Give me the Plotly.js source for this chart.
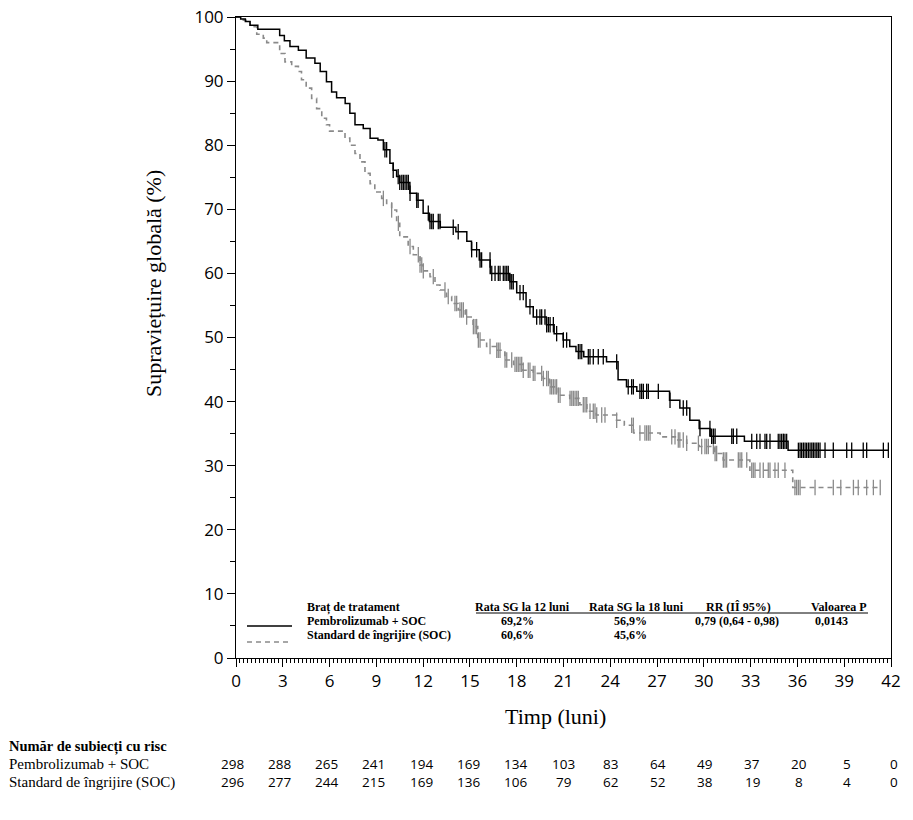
<!DOCTYPE html>
<html>
<head>
<meta charset="utf-8">
<script src="https://cdn.plot.ly/plotly-3.0.1.min.js"></script>
<style>html,body{margin:0;padding:0;background:#fff}</style>
</head>
<body>
<div id="chart" style="width:913px;height:820px"></div>
<script>
// ---- Kaplan-Meier data ----
const pembroTime = [0,0.3,0.6,0.9,1.4,2.8,3.1,3.46,4.0,4.5,5.06,5.4,5.8,6.13,6.45,7.0,7.3,7.63,8.16,8.6,9.1,9.45,9.87,10.08,10.3,10.5,11.15,11.58,12.0,12.4,13.1,14.1,14.8,15.1,15.6,16.3,17.56,18.0,18.6,19.06,19.9,20.4,20.98,21.4,21.8,22.3,23.76,24.5,25.04,25.7,27.8,28.46,29.1,29.7,30.4,32.6,35.4,41.83];
const pembroSurv = [100,99.7,99.3,98.7,98.1,97.1,96.3,95.4,94.8,93.6,92.8,91.5,89.9,88.3,87.4,86.5,85.0,83.2,82.6,81.1,80.8,79.3,77.2,76.1,75.1,74.2,72.5,71.4,69.4,68.1,67.2,66.5,65.0,63.7,62.1,60.0,58.7,57.0,54.8,53.2,52.0,50.6,49.6,48.6,47.8,47.0,46.2,43.4,42.3,41.6,40.2,39.0,37.1,35.8,34.6,33.8,32.4,32.4];
const socTime = [0,0.47,0.9,1.33,1.75,1.97,2.8,3.14,3.57,4.0,4.2,4.5,4.85,5.17,5.5,5.8,6.0,6.99,7.3,7.63,7.95,8.27,8.6,8.9,9.34,9.66,9.98,10.3,10.5,11.04,11.37,11.8,12.0,12.44,12.76,13.08,13.5,13.83,14.25,14.7,15.2,15.5,16.07,16.7,17.24,17.8,18.4,19.06,19.7,20.1,20.67,21.4,22.05,22.5,23.1,24.4,24.9,25.5,27.2,28.25,28.9,29.7,30.7,31.24,32.95,35.7,41.31];
const socSurv = [100,99.5,98.5,97.3,96.7,96.0,94.3,93.0,92.3,91.5,90.2,88.9,87.3,85.7,84.2,83.2,82.2,81.1,80.0,78.7,77.4,75.6,74.0,72.7,71.7,70.9,69.9,67.8,65.7,64.2,62.9,61.3,60.4,59.5,58.2,57.4,56.4,55.3,54.3,53.2,51.7,49.6,48.6,48.0,46.5,45.8,44.9,44.4,43.6,42.3,41.0,40.5,39.5,38.5,37.9,37.1,36.3,35.1,34.5,34.0,33.5,33.0,31.9,30.9,29.3,26.6,26.6];
const pembroCensor = [9.55,9.66,10.08,10.4,10.5,10.63,10.73,10.84,10.95,11.05,11.16,11.59,11.68,12.33,12.44,12.55,12.65,12.97,13.08,13.93,14.25,15.11,15.43,15.65,15.75,16.29,16.4,16.61,16.82,16.93,17.14,17.25,17.36,17.46,17.57,17.68,17.78,18.21,18.42,18.85,19.28,19.49,19.6,19.81,19.92,20.03,20.14,20.35,20.56,20.99,21.2,21.95,22.06,22.17,22.59,22.7,22.91,23.23,23.55,24.41,25.15,25.37,25.48,25.9,26.01,26.12,26.33,26.44,27.08,27.83,28.68,28.9,29.75,30.39,30.5,30.61,30.72,31.79,31.89,32.11,33.07,33.39,33.6,33.92,34.03,34.24,34.77,34.88,34.99,35.1,35.2,35.31,36.06,36.17,36.27,36.38,36.49,36.59,36.7,36.81,36.92,37.02,37.13,37.24,37.34,37.45,37.77,38.3,39.16,39.48,40.22,40.44,41.51,41.83];
const socCensor = [9.45,9.98,10.41,11.16,11.69,11.8,11.91,12.01,12.65,13.4,13.61,14.04,14.15,14.36,14.47,14.58,14.79,15.22,15.33,15.43,15.54,15.65,16.29,16.72,16.82,16.93,17.25,17.36,17.68,17.89,18.0,18.1,18.21,18.32,18.42,18.74,18.85,19.06,19.17,19.6,19.71,19.92,20.03,20.14,20.24,20.35,20.46,20.56,20.67,20.78,21.42,21.53,21.63,21.74,21.85,21.95,22.27,22.38,22.49,22.7,22.91,23.02,23.13,23.45,23.66,24.41,25.37,25.48,25.9,26.22,26.33,26.44,26.55,27.94,28.15,28.36,28.46,28.68,28.9,29.65,29.86,30.07,30.18,30.29,30.61,30.72,30.82,31.25,31.36,31.46,32.21,32.32,32.43,32.75,33.07,33.17,33.28,33.6,33.81,34.13,34.24,34.56,34.77,35.2,35.84,35.95,36.06,36.17,37.13,38.3,38.78,39.59,39.9,40.44,40.87,41.31];

// ---- risk table ----
const riskTimes = [0,3,6,9,12,15,18,21,24,27,30,33,36,39,42];
const pembroRisk = [298,288,265,241,194,169,134,103,83,64,49,37,20,5,0];
const socRisk = [296,277,244,215,169,136,106,79,62,52,38,19,8,4,0];

// ---- text ----
const armNames = ['Pembrolizumab + SOC','Standard de îngrijire (SOC)'];
const rate12 = ['69,2%','60,6%'];
const rate18 = ['56,9%','45,6%'];
const hrText = '0,79 (0,64 - 0,98)';
const pText = '0,0143';

function stepAt(times, surv, t){
  let v = surv[0];
  for (let i=0;i<times.length;i++){ if (times[i] <= t) v = surv[i]; else break; }
  return v;
}

const BLACK = '#000000', GRAY = '#8a8a8a';

const traces = [
  {x: socTime, y: socSurv, type:'scatter', mode:'lines', line:{shape:'hv', color:GRAY, width:1.6, dash:'5px,4px'}, hoverinfo:'skip'},
  {x: socCensor, y: socCensor.map(t=>stepAt(socTime,socSurv,t)), type:'scatter', mode:'markers',
   marker:{symbol:'line-ns-open', size:11, color:GRAY, line:{color:GRAY, width:1.3}}, hoverinfo:'skip'},
  {x: pembroTime, y: pembroSurv, type:'scatter', mode:'lines', line:{shape:'hv', color:BLACK, width:1.5}, hoverinfo:'skip'},
  {x: pembroCensor, y: pembroCensor.map(t=>stepAt(pembroTime,pembroSurv,t)), type:'scatter', mode:'markers',
   marker:{symbol:'line-ns-open', size:11, color:BLACK, line:{color:BLACK, width:1.3}}, hoverinfo:'skip'}
];

// pixel helpers for paper coords
const L=236, R=891, T=17, B=658;
const W=R-L, H=B-T;
const px = p => (p-L)/W;
const py = p => (B-p)/H;

const serif = 'Liberation Serif';
const sans = 'Open Sans';
const ann = [];
const legFont = {family: serif, size: 12, color:'#000'};
function la(x,y,txt,anchor){ ann.push({xref:'paper', yref:'paper', x:px(x), y:py(y), xanchor:anchor, yanchor:'middle', text:'<b>'+txt+'</b>', showarrow:false, font:legFont}); }
la(305,607,'Braț de tratament','left');
la(305,621,armNames[0],'left');
la(305,635,armNames[1],'left');
la(522,607,'Rata SG la 12 luni','center');
la(636,607,'Rata SG la 18 luni','center');
la(738,607,'RR (IÎ 95%)','center');
la(839,607,'Valoarea P','center');
la(517,621,rate12[0],'center');
la(517,635,rate12[1],'center');
la(630,621,rate18[0],'center');
la(630,635,rate18[1],'center');
la(737,621,hrText,'center');
la(831,621,pText,'center');

// axis titles
ann.push({xref:'paper', yref:'paper', x:px(153), y:py(284), xanchor:'center', yanchor:'middle', textangle:-90, text:'Supraviețuire globală (%)', showarrow:false, font:{family:serif, size:22, color:'#000'}});
ann.push({xref:'paper', yref:'paper', x:px(555), y:py(716), xanchor:'center', yanchor:'middle', text:'Timp (luni)', showarrow:false, font:{family:serif, size:22, color:'#000'}});

// risk table
ann.push({xref:'paper', yref:'paper', x:px(7), y:py(746), xanchor:'left', yanchor:'middle', text:'<b>Număr de subiecți cu risc</b>', showarrow:false, font:{family:serif, size:14.5, color:'#000'}});
ann.push({xref:'paper', yref:'paper', x:px(7), y:py(764), xanchor:'left', yanchor:'middle', text:armNames[0], showarrow:false, font:{family:serif, size:15, color:'#000'}});
ann.push({xref:'paper', yref:'paper', x:px(7), y:py(782), xanchor:'left', yanchor:'middle', text:armNames[1], showarrow:false, font:{family:serif, size:15, color:'#000'}});
riskTimes.forEach((t,i)=>{
  const sh = -4 + i*0.5;
  ann.push({xref:'x', yref:'paper', x:t, y:py(764), xanchor:'center', yanchor:'middle', xshift:sh, text:String(pembroRisk[i]), showarrow:false, font:{family:sans, size:13.5, color:'#000'}});
  ann.push({xref:'x', yref:'paper', x:t, y:py(782), xanchor:'center', yanchor:'middle', xshift:sh, text:String(socRisk[i]), showarrow:false, font:{family:sans, size:13.5, color:'#000'}});
});

const shapes = [
  {type:'line', xref:'paper', yref:'paper', x0:px(247), x1:px(292), y0:py(626), y1:py(626), line:{color:BLACK, width:1.5}},
  {type:'line', xref:'paper', yref:'paper', x0:px(247), x1:px(292), y0:py(642), y1:py(642), line:{color:GRAY, width:1.5, dash:'5px,4px'}},
  {type:'line', xref:'paper', yref:'paper', x0:px(476), x1:px(868), y0:py(613), y1:py(613), line:{color:BLACK, width:1}}
];

const layout = {
  width: 913, height: 820,
  margin: {l:L, r:913-R, t:T, b:820-B, pad:0},
  paper_bgcolor:'#fff', plot_bgcolor:'#fff',
  showlegend:false,
  xaxis: {range:[0,42], tick0:0, dtick:3, ticks:'outside', ticklen:8, tickwidth:1, tickcolor:'#000',
          showline:true, linecolor:'#000', linewidth:1, mirror:true, showgrid:false, zeroline:false,
          minor:{dtick:0.25, ticks:'outside', ticklen:4, tickwidth:1, tickcolor:'#000', showgrid:false},
          tickfont:{family:sans, size:17, color:'#000'}, fixedrange:true},
  yaxis: {range:[0,100], tick0:0, dtick:10, ticks:'outside', ticklen:8, tickwidth:1, tickcolor:'#000',
          showline:true, linecolor:'#000', linewidth:1, mirror:true, showgrid:false, zeroline:false,
          minor:{dtick:5, ticks:'outside', ticklen:5, tickwidth:1, tickcolor:'#000', showgrid:false},
          tickfont:{family:sans, size:17, color:'#000'}, fixedrange:true},
  annotations: ann,
  shapes: shapes
};

Plotly.newPlot('chart', traces, layout, {displayModeBar:false, staticPlot:true});
</script>
</body>
</html>
